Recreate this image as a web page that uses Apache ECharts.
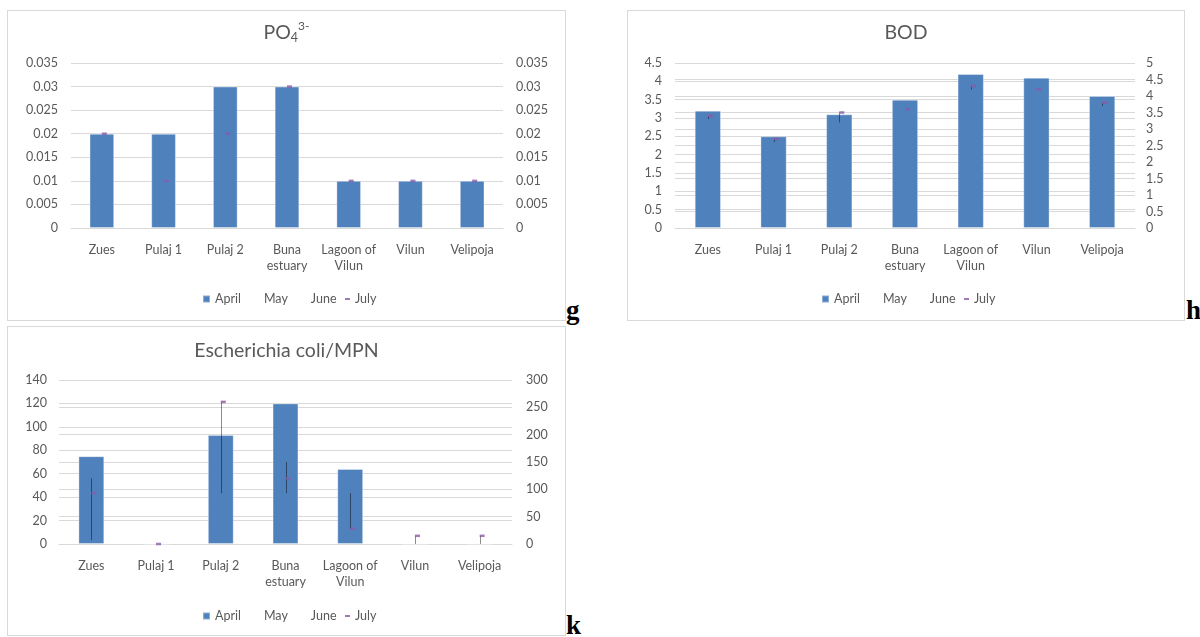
<!DOCTYPE html>
<html>
<head>
<meta charset="utf-8">
<title>PO4, BOD, Escherichia coli</title>
<script src="https://cdn.jsdelivr.net/npm/echarts@6/dist/echarts.min.js"></script>
<style>
  html, body { margin: 0; padding: 0; background: #fff; }
  body { position: relative; width: 1200px; height: 637px; overflow: hidden; }
  .panel { position: absolute; box-sizing: border-box; border: 1px solid #d9d9d9; }
  #chart_po4 { left: 7px; top: 10px; width: 559px; height: 311px; }
  #chart_bod { left: 627px; top: 10px; width: 558px; height: 311px; }
  #chart_ecoli { left: 7px; top: 326px; width: 559px; height: 310px; }
  .tag { position: absolute; font: bold 27px/27px "Liberation Serif", "Times New Roman", serif; color: #000; }
</style>
</head>
<body>
<div class="panel" id="chart_po4"></div>
<div class="panel" id="chart_bod"></div>
<div class="panel" id="chart_ecoli"></div>
<span class="tag" style="left:566px;top:297px;">g</span>
<span class="tag" style="left:1186px;top:297px;">h</span>
<span class="tag" style="left:566px;top:612px;">k</span>

<script>
var sites = ['Zues', 'Pulaj 1', 'Pulaj 2', 'Buna estuary', 'Lagoon of Vilun', 'Vilun', 'Velipoja'];

// PO4 3-  (April = bars on left axis, May/June/July on right axis)
var po4April = [0.02, 0.02, 0.03, 0.03, 0.01, 0.01, 0.01];
var po4May   = [0.02, 0.01, 0.02, 0.03, 0.01, 0.01, 0.01];
var po4June  = [0.02, 0.01, 0.02, 0.03, 0.01, 0.01, 0.01];
var po4July  = [0.02, 0.01, 0.02, 0.03, 0.01, 0.01, 0.01];
var po4LeftAxis  = [0, 0.035, 0.005];   // min, max, step
var po4RightAxis = [0, 0.035, 0.005];

// BOD
var bodApril = [3.2, 2.5, 3.1, 3.5, 4.2, 4.1, 3.6];
var bodMay   = [3.3, 2.6, 3.2, 3.6, 4.2, 4.2, 3.7];
var bodJune  = [3.3, 2.6, 3.2, 3.6, 4.2, 4.2, 3.7];
var bodJuly  = [3.4, 2.7, 3.5, 3.6, 4.3, 4.2, 3.8];
var bodLeftAxis  = [0, 4.5, 0.5];
var bodRightAxis = [0, 5, 0.5];

// Escherichia coli / MPN
var ecoliApril = [75, 0, 93, 120, 64, 0, 0];
var ecoliMay   = [120, 0, 93, 150, 93, 0, 0];
var ecoliJune  = [7, 0, 93, 93, 28, 0, 0];
var ecoliJuly  = [93, 0, 260, 120, 28, 15, 15];
var ecoliLeftAxis  = [0, 140, 20];
var ecoliRightAxis = [0, 300, 50];

var font = 'Lato, "Liberation Sans", sans-serif';
var textColor = '#595959';
var gridColor = '#d9d9d9';

function hiLoItem(params, api) {
  var lo = api.coord([api.value(0), api.value(1)]);
  var hi = api.coord([api.value(0), api.value(2)]);
  if (Math.abs(lo[1] - hi[1]) < 0.5) {
    return null;
  }
  var x = Math.round(lo[0]) + 0.5;
  return {
    type: 'line',
    shape: { x1: x, y1: lo[1], x2: x, y2: hi[1] },
    style: { stroke: 'rgba(0,0,0,0.45)', lineWidth: 1 }
  };
}

function valueAxis(pos, axis, margin, showSplit) {
  return {
    type: 'value',
    position: pos,
    min: axis[0],
    max: axis[1],
    interval: axis[2],
    axisLine: { show: false },
    axisTick: { show: false },
    axisLabel: { color: textColor, fontSize: 12.5, fontFamily: font, margin: margin },
    splitLine: { show: showSplit, lineStyle: { color: gridColor, width: 1 } }
  };
}

function makeOption(cfg) {
  var hiLo = sites.map(function (s, i) {
    var a = cfg.may[i], b = cfg.june[i], c = cfg.july[i];
    return [i, Math.min(a, b, c), Math.max(a, b, c)];
  });
  var july = sites.map(function (s, i) { return [i, cfg.july[i]]; });

  return {
    animation: false,
    textStyle: { fontFamily: font },
    title: {
      text: cfg.title,
      left: 'center',
      top: cfg.titleTop,
      padding: 0,
      textStyle: {
        color: textColor,
        fontSize: 19.5,
        fontWeight: 'normal',
        fontFamily: font,
        lineHeight: cfg.titleLine,
        rich: {
          sub: { fontSize: 12.5, lineHeight: 12, verticalAlign: 'bottom', color: textColor, fontFamily: font },
          sup: { fontSize: 12, lineHeight: 18, verticalAlign: 'top', color: textColor, fontFamily: font }
        }
      }
    },
    grid: cfg.grid,
    legend: [{
      data: [{ name: 'April' }, { name: 'May' }, { name: 'June' }],
      left: cfg.legendLeft,
      top: cfg.legendTop,
      padding: 0,
      icon: 'rect',
      itemWidth: 7,
      itemHeight: 7,
      itemGap: 11,
      selectedMode: false,
      textStyle: { color: textColor, fontSize: 12.5, lineHeight: 14, fontFamily: font }
    }, {
      data: ['July'],
      left: cfg.julyLeft,
      top: cfg.legendTop,
      padding: 0,
      icon: 'rect',
      itemWidth: 5,
      itemHeight: 2,
      selectedMode: false,
      textStyle: { color: textColor, fontSize: 12.5, lineHeight: 14, fontFamily: font }
    }],
    xAxis: {
      type: 'category',
      data: sites,
      axisTick: { show: false },
      axisLine: { lineStyle: { color: gridColor, width: 1 } },
      axisLabel: {
        color: textColor,
        fontSize: 12.5,
        fontFamily: font,
        lineHeight: 16,
        margin: 14,
        interval: 0,
        formatter: function (v) {
          return v.replace('Buna ', 'Buna\n').replace('Lagoon of ', 'Lagoon of\n');
        }
      }
    },
    yAxis: [
      valueAxis('left', cfg.leftAxis, cfg.leftMargin, true),
      valueAxis('right', cfg.rightAxis, cfg.rightMargin, cfg.rightSplit)
    ],
    series: [{
      name: 'April',
      type: 'bar',
      barWidth: '40%',
      yAxisIndex: 0,
      itemStyle: { color: '#4F81BD', borderColor: 'rgba(255,255,255,0.35)', borderWidth: 1 },
      data: cfg.april,
      z: 2
    }, {
      name: 'May',
      type: 'line',
      yAxisIndex: 1,
      symbol: 'none',
      silent: true,
      itemStyle: { color: 'rgba(0,0,0,0)' },
      lineStyle: { color: 'rgba(0,0,0,0)', width: 0 },
      data: cfg.may
    }, {
      name: 'June',
      type: 'line',
      yAxisIndex: 1,
      symbol: 'none',
      silent: true,
      itemStyle: { color: 'rgba(0,0,0,0)' },
      lineStyle: { color: 'rgba(0,0,0,0)', width: 0 },
      data: cfg.june
    }, {
      name: 'hilo',
      type: 'custom',
      yAxisIndex: 1,
      renderItem: hiLoItem,
      encode: { x: 0, y: [1, 2] },
      data: hiLo,
      z: 3
    }, {
      name: 'July',
      type: 'scatter',
      yAxisIndex: 1,
      symbol: 'rect',
      symbolSize: [5, 2.5],
      symbolOffset: [2.5, 0],
      itemStyle: { color: '#8A5AA6' },
      data: july,
      z: 4
    }]
  };
}

var charts = [];

charts.push(echarts.init(document.getElementById('chart_po4')));
charts[0].setOption(makeOption({
  title: 'PO{sub|4}{sup|3-}',
  titleTop: 9.5,
  titleLine: 24,
  grid: { left: 63, top: 52, width: 432, height: 165 },
  april: po4April, may: po4May, june: po4June, july: po4July,
  leftAxis: po4LeftAxis, rightAxis: po4RightAxis,
  leftMargin: 13, rightMargin: 13, rightSplit: false,
  legendLeft: 194, julyLeft: 337, legendTop: 281
}));

charts.push(echarts.init(document.getElementById('chart_bod')));
charts[1].setOption(makeOption({
  title: 'BOD',
  titleTop: 12,
  titleLine: 20,
  grid: { left: 47, top: 52, width: 460, height: 165 },
  april: bodApril, may: bodMay, june: bodJune, july: bodJuly,
  leftAxis: bodLeftAxis, rightAxis: bodRightAxis,
  leftMargin: 13, rightMargin: 11, rightSplit: true,
  legendLeft: 193, julyLeft: 336, legendTop: 281
}));

charts.push(echarts.init(document.getElementById('chart_ecoli')));
charts[2].setOption(makeOption({
  title: 'Escherichia coli/MPN',
  titleTop: 14,
  titleLine: 20,
  grid: { left: 51, top: 53, width: 453, height: 164 },
  april: ecoliApril, may: ecoliMay, june: ecoliJune, july: ecoliJuly,
  leftAxis: ecoliLeftAxis, rightAxis: ecoliRightAxis,
  leftMargin: 12, rightMargin: 14, rightSplit: true,
  legendLeft: 194, julyLeft: 337, legendTop: 282
}));

window.addEventListener('resize', function () {
  charts.forEach(function (c) { c.resize(); });
});
</script>
</body>
</html>
